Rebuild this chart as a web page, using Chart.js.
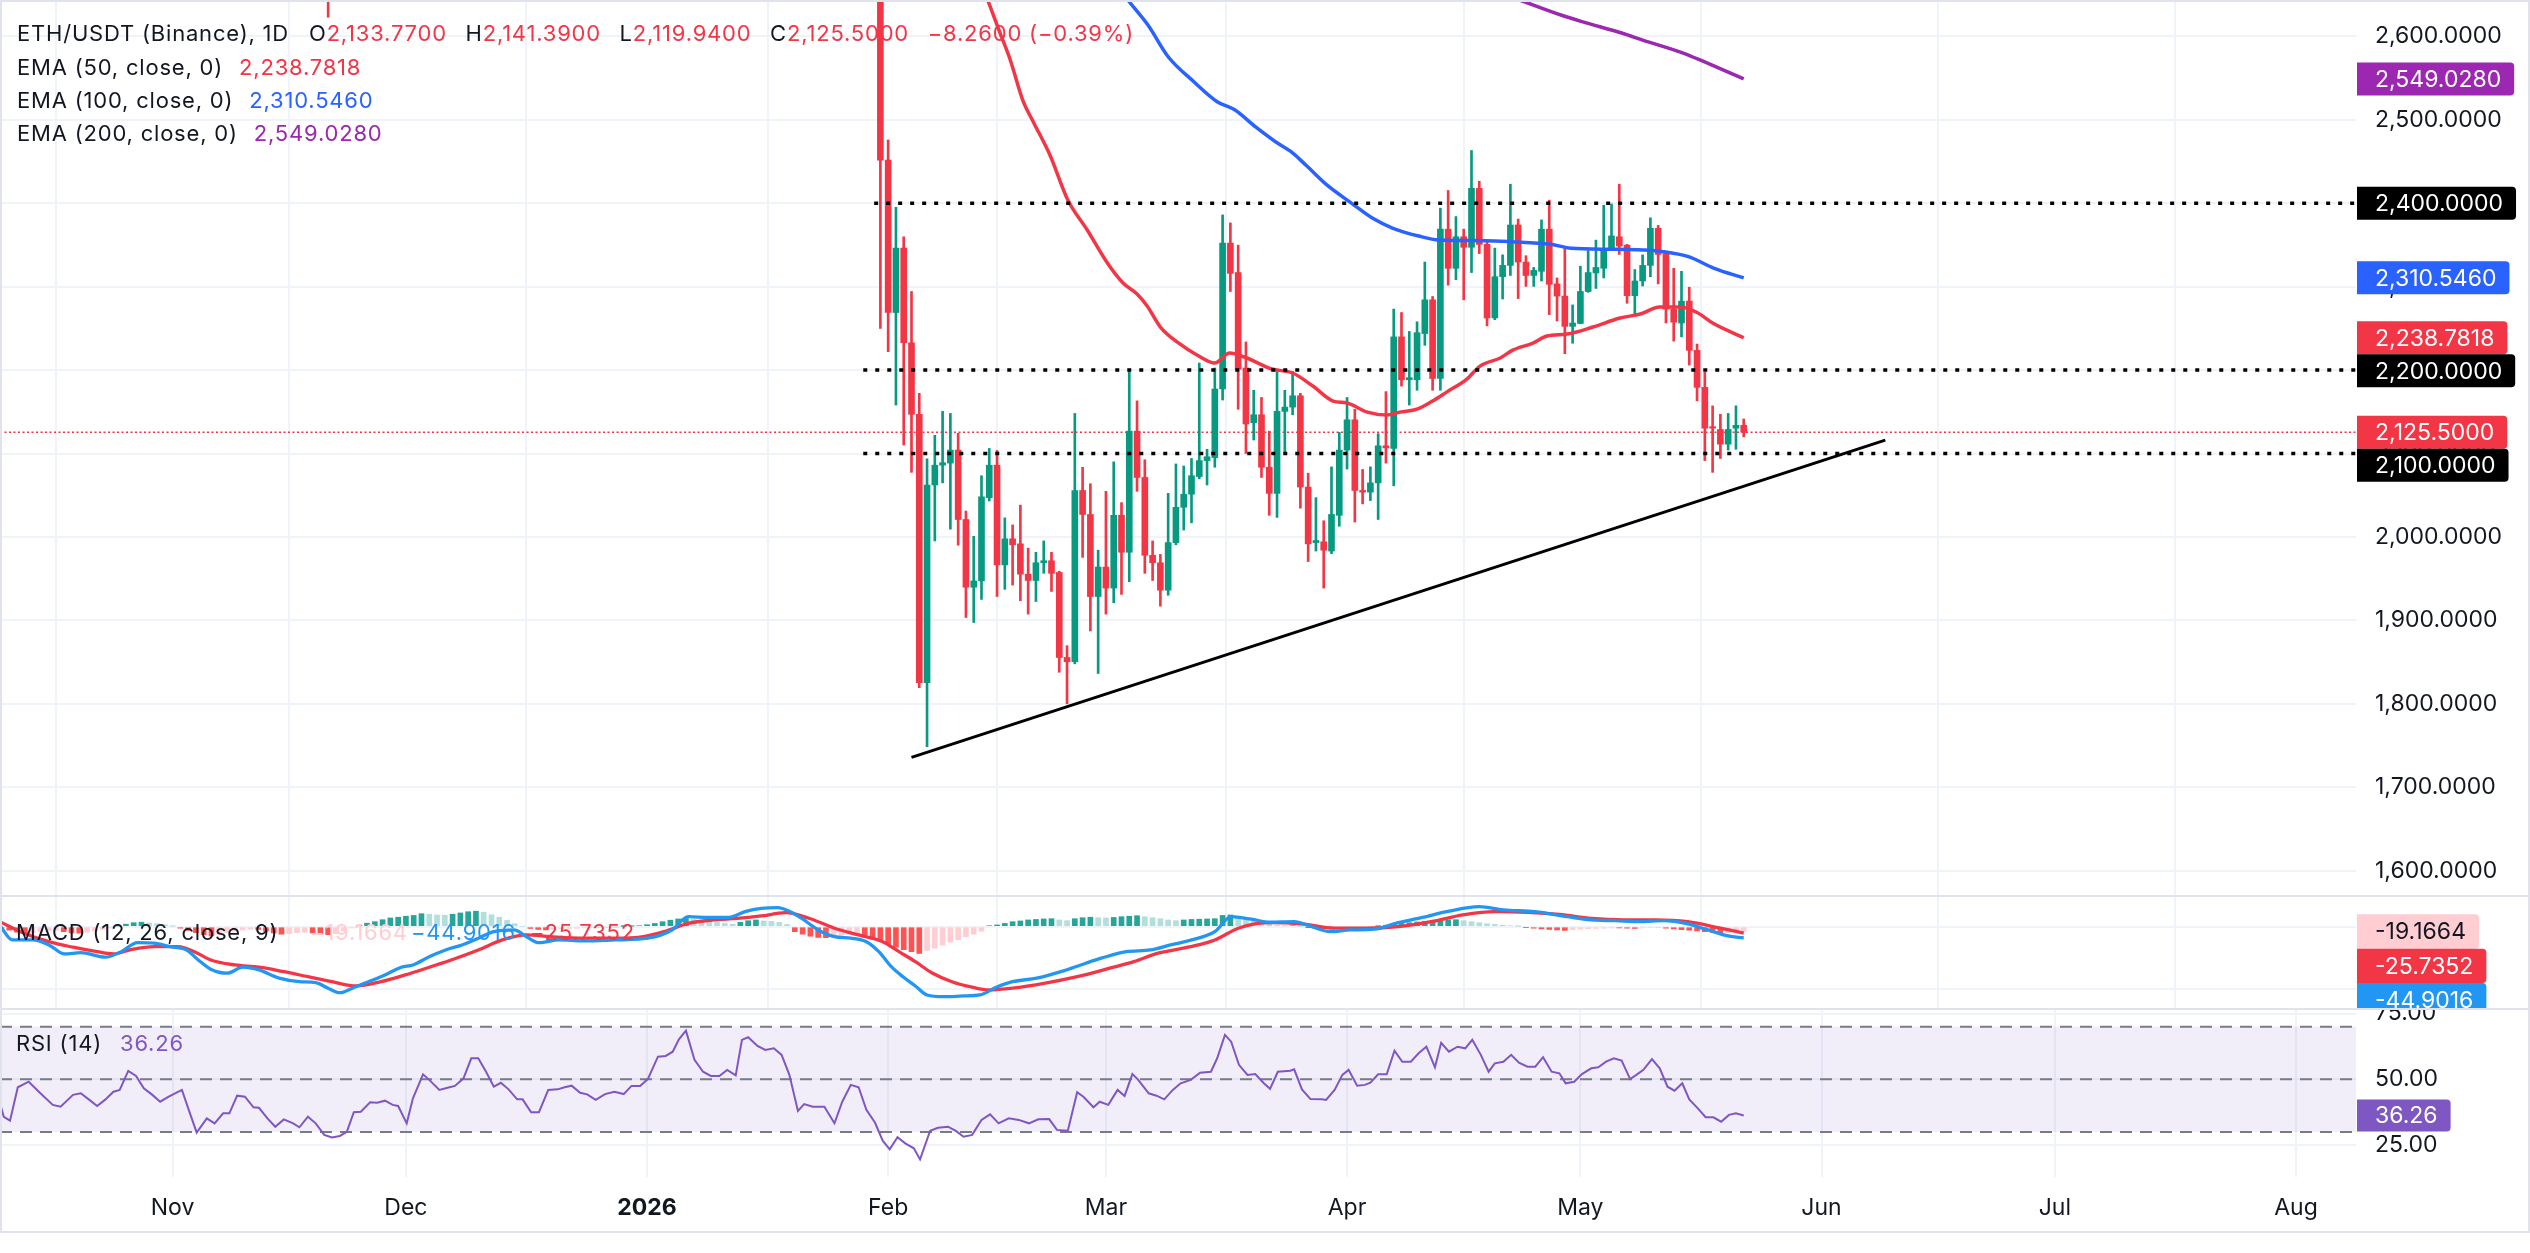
<!DOCTYPE html>
<html>
<head>
<meta charset="utf-8">
<script src="https://cdn.jsdelivr.net/npm/chart.js@4.4.1/dist/chart.umd.min.js"></script>
<style>
  html, body { margin:0; padding:0; background:#ffffff; }
  body { width:2530px; height:1253px; position:relative; overflow:hidden; font-family: Inter, "Noto Sans", sans-serif; }
  canvas { position:absolute; left:0; }
  .sep { position:absolute; left:0; width:2530px; height:2px; background:#E0E3EB; }
  .frame { position:absolute; left:0; top:0; width:2526px; height:1229px; border:2px solid #E0E3EB; pointer-events:none; }
  .leg { position:absolute; left:17px; font-size:22px; letter-spacing:0.8px; line-height:24px; height:24px; color:#131722; white-space:nowrap; }
  .leg .g { margin-left:16px; }
  .leg .a { position:absolute; top:0; }
  .red { color:#F23645; } .blue { color:#2962FF; } .purple { color:#9C27B0; }
  .pink { color:#FFCDD2; } .mblue { color:#2196F3; } .rsi { color:#7E57C2; } .blk { color:#131722; }
</style>
</head>
<body>
<canvas id="cPrice" width="2530" height="895" style="top:0px"></canvas>
<div class="sep" style="top:895px"></div>
<canvas id="cMacd" width="2530" height="111" style="top:897px"></canvas>
<div class="sep" style="top:1008px"></div>
<canvas id="cRsi" width="2530" height="222" style="top:1010px"></canvas>
<div class="frame"></div>
<div class="leg" id="leg1" style="top:21px"></div>
<div class="leg" id="leg2" style="top:55px"></div>
<div class="leg" id="leg3" style="top:88px"></div>
<div class="leg" id="leg4" style="top:121px"></div>
<div class="leg" id="legM" style="top:920px;left:16px"></div>
<div class="leg" id="legR" style="top:1031px;left:16px"></div>
<script>
// ---------------- DATA ----------------
// Daily candles (ETH/USDT, Binance, 1D)
const candleDates = ['2025-11-21','2026-01-31',
 '2026-02-01','2026-02-02','2026-02-03','2026-02-04','2026-02-05','2026-02-06','2026-02-07','2026-02-08','2026-02-09','2026-02-10',
 '2026-02-11','2026-02-12','2026-02-13','2026-02-14','2026-02-15','2026-02-16','2026-02-17','2026-02-18','2026-02-19','2026-02-20',
 '2026-02-21','2026-02-22','2026-02-23','2026-02-24','2026-02-25','2026-02-26','2026-02-27','2026-02-28',
 '2026-03-01','2026-03-02','2026-03-03','2026-03-04','2026-03-05','2026-03-06','2026-03-07','2026-03-08','2026-03-09','2026-03-10',
 '2026-03-11','2026-03-12','2026-03-13','2026-03-14','2026-03-15','2026-03-16','2026-03-17','2026-03-18','2026-03-19','2026-03-20',
 '2026-03-21','2026-03-22','2026-03-23','2026-03-24','2026-03-25','2026-03-26','2026-03-27','2026-03-28','2026-03-29','2026-03-30','2026-03-31',
 '2026-04-01','2026-04-02','2026-04-03','2026-04-04','2026-04-05','2026-04-06','2026-04-07','2026-04-08','2026-04-09','2026-04-10',
 '2026-04-11','2026-04-12','2026-04-13','2026-04-14','2026-04-15','2026-04-16','2026-04-17','2026-04-18','2026-04-19','2026-04-20',
 '2026-04-21','2026-04-22','2026-04-23','2026-04-24','2026-04-25','2026-04-26','2026-04-27','2026-04-28','2026-04-29','2026-04-30',
 '2026-05-01','2026-05-02','2026-05-03','2026-05-04','2026-05-05','2026-05-06','2026-05-07','2026-05-08','2026-05-09','2026-05-10',
 '2026-05-11','2026-05-12','2026-05-13','2026-05-14','2026-05-15','2026-05-16','2026-05-17','2026-05-18','2026-05-19','2026-05-20',
 '2026-05-21','2026-05-22'];
const opens = [2840,2700,
 2451.6,2269.0,2346.2,2232.7,2147.0,1825.2,2062.3,2086.0,2088.5,2104.1,
 2020.9,1939.7,1947.3,2047.1,2086.0,1966.5,1997.7,1991.7,1955.4,1947.8,
 1969.0,1971.5,1957.4,1855.5,1850.4,2055.7,2026.9,1928.6,
 1963.9,1938.7,2025.9,1981.6,2126.8,2071.3,1978.0,1969.0,1936.2,1993.2,
 2035.5,2051.2,2072.4,2091.5,2095.1,2177.3,2352.2,2316.9,2202.5,2136.9,
 2146.5,2083.5,2052.2,2150.5,2155.6,2169.2,2059.8,1993.2,1994.2,1983.1,2025.9,
 2104.1,2140.4,2055.7,2053.7,2064.8,2109.2,2106.1,2239.8,2188.4,2188.4,
 2243.8,2284.2,2189.9,2368.9,2322.0,2359.8,2347.2,2417.8,2350.7,2262.5,
 2311.9,2325.5,2373.9,2329.5,2313.4,2318.4,2368.9,2303.3,2288.7,2252.4,
 2255.9,2294.2,2316.4,2322.0,2345.7,2359.8,2349.7,2289.2,2306.8,2325.5,
 2369.9,2339.6,2273.1,2256.4,2282.6,2223.6,2179.3,2131.4,2128.8,2111.2,
 2130.4,2133.77];
const highs = [2870,2720,
 2475.8,2395.1,2359.8,2294.2,2172.2,2093.5,2121.8,2150.5,2148.0,2124.3,
 2031.0,2000.7,2073.4,2106.1,2103.6,2022.9,2014.4,2038.1,1986.6,1981.6,
 1995.2,1981.6,1958.9,1869.6,2148.0,2083.5,2063.8,1984.1,
 2054.7,2090.0,2041.1,2198.4,2163.1,2092.5,1995.2,1979.0,2052.2,2087.5,
 2085.0,2094.0,2208.5,2105.1,2202.5,2386.0,2376.4,2349.7,2233.7,2175.8,
 2167.2,2126.8,2197.4,2175.8,2198.4,2172.2,2076.4,2047.1,2019.4,2084.0,2125.3,
 2167.2,2153.0,2080.9,2084.0,2123.8,2174.2,2273.1,2269.0,2246.3,2257.9,
 2329.5,2288.2,2394.1,2415.3,2384.0,2368.9,2463.2,2426.4,2353.8,2346.2,
 2338.1,2422.8,2381.0,2337.1,2323.0,2380.0,2403.7,2310.4,2346.2,2278.1,
 2324.5,2343.2,2355.8,2397.6,2399.1,2422.8,2350.7,2320.5,2338.1,2382.5,
 2373.4,2340.5,2322.0,2318.4,2299.3,2231.2,2197.4,2157.1,2147.0,2148.0,
 2157.1,2141.39];
const lows = [2623,2249.9,
 2222.1,2158.1,2110.2,2077.4,1819.2,1748.6,1995.2,2064.8,2009.3,1990.1,
 1903.4,1897.4,1925.1,2043.1,1928.6,1937.2,1942.3,1923.6,1907.5,1922.6,
 1956.4,1934.7,1837.8,1800.0,1847.9,1975.5,1887.3,1836.3,
 1907.5,1921.1,1931.1,1946.3,2054.7,1956.4,1947.8,1917.0,1930.1,1990.6,
 2008.3,2016.9,2069.8,2062.3,2083.5,2164.1,2294.2,2153.0,2100.1,2116.2,
 2071.3,2025.9,2023.4,2101.1,2146.5,2034.5,1970.5,1983.1,1938.7,1980.0,2012.8,
 2081.4,2017.9,2039.6,2043.6,2020.9,2088.5,2061.3,2180.8,2158.1,2175.8,
 2229.7,2175.8,2175.8,2301.8,2308.4,2284.2,2316.9,2339.6,2252.9,2260.4,
 2285.2,2313.4,2285.7,2300.3,2300.3,2306.8,2266.5,2258.9,2219.6,2232.2,
 2255.4,2293.2,2297.8,2310.4,2343.7,2338.6,2280.1,2265.0,2300.8,2311.9,
 2303.3,2256.4,2234.7,2239.8,2206.0,2163.1,2091.5,2077.4,2094.0,2104.1,
 2105.1,2119.94];
const closes = [2760,2451.6,
 2269.0,2346.2,2232.7,2147.0,1825.2,2062.3,2086.0,2089.0,2104.1,2020.9,
 1939.7,1947.3,2048.1,2086.0,1966.5,1997.7,1990.6,1955.4,1947.8,1969.0,
 1971.5,1956.4,1855.5,1850.4,2055.7,2026.9,1928.6,1963.9,
 1938.7,2025.9,1981.6,2126.8,2071.3,1978.0,1969.0,1936.2,1993.2,2035.5,
 2051.2,2073.4,2091.5,2096.1,2177.3,2352.2,2315.9,2201.0,2135.4,2146.5,
 2083.5,2052.2,2150.5,2155.6,2169.2,2059.8,1991.7,1995.7,1984.1,2026.9,2104.1,
 2140.4,2055.7,2053.7,2064.8,2109.2,2106.7,2239.8,2188.4,2190.9,2244.8,
 2284.2,2189.9,2368.9,2322.0,2359.8,2347.2,2417.8,2350.7,2262.5,2311.9,
 2325.5,2373.9,2329.5,2313.4,2319.5,2368.9,2302.8,2288.7,2252.4,2256.4,
 2294.2,2316.9,2323.0,2345.7,2360.8,2348.7,2289.2,2306.8,2325.5,2369.9,
 2338.6,2273.1,2257.4,2282.6,2223.6,2179.3,2130.4,2130.4,2111.2,2128.8,
 2133.76,2125.5];

// EMA lines (x = days since 2025-11-01)
const ema50Days = [104.8,106.4,107.7,109.3,110.6,112.8,115.1,117.6,120.1,122.2,124.0,125.3,127.0,129.5,131.7,134.0,135.9,138.1,141.3,144.0,146.6,149.2,151.0,153.6,156.1,157.8,160.0,162.0,163.8,166.4,168.1,170.7,172.3,174.9,176.7,179.3,182.6,186.1,188.7,191.2,193.8,196.0,198.0,202.0];
const ema50Vals = [2643.6,2603.7,2571.7,2523.7,2498.6,2457.8,2403.9,2367.9,2329.6,2304.4,2291.2,2276.8,2251.6,2231.3,2218.1,2208.5,2220.5,2214.5,2201.3,2196.5,2180.9,2162.9,2160.5,2149.6,2146.1,2149.6,2153.2,2162.9,2173.6,2189.2,2204.8,2214.5,2223.9,2232.4,2240.8,2243.2,2251.6,2262.4,2267.2,2275.6,2275.6,2269.0,2256.4,2238.7818];
const ema100Days = [122.8,125.4,128.0,131.3,134.3,136.6,139.2,141.8,143.8,145.7,148.4,151.6,154.3,156.9,160.2,162.8,168.7,172.0,177.2,179.8,185.1,189.0,191.7,194.9,198.2,202.0];
const ema100Vals = [2643.6,2613.6,2575.6,2545.7,2521.7,2511.7,2491.7,2473.7,2461.8,2445.8,2421.9,2399.9,2381.9,2370.0,2360.7,2355.9,2355.1,2353.9,2350.8,2346.0,2344.8,2343.9,2341.9,2335.9,2322.0,2310.546];
const ema200Days = [173.2,178.5,181.2,186.4,189.0,194.3,196.9,202.0];
const ema200Vals = [2643.6,2625.6,2617.6,2603.7,2595.6,2579.7,2569.6,2549.028];

// MACD (12, 26, close, 9)
const macdDays = [-22.2,-20.6,-18.0,-15.9,-13.9,-11.8,-8.65,-6.6,-4.5,-2.4,-0.3,1.8,3.3,4.9,7.0,9.05,11.1,13.7,16.3,18.4,20.0,21.5,23.1,25.2,27.3,29.4,30.9,33.0,35.1,37.2,39.3,41.3,43.9,45.5,47.1,49.7,52.8,57.0,61.1,64.2,66.3,68.9,71.5,73.6,75.7,77.8,79.4,80.9,83.0,85.1,87.2,89.2,90.8,92.4,93.9,95.5,97.0,99.1,101.7,103.8,105.9,108.0,111.1,114.2,117.4,119.4,122.6,125.7,128.3,131.4,134.0,136.1,138.7,141.1,144.2,146.2,148.8,151.4,154.5,157.6,160.7,163.8,168.0,171.1,175.2,179.3,182.4,185.5,188.6,191.7,194.8,197.4,200.0,202.0];
const macdVals = [5,-53,-53,-73,-109,-104,-122,-100,-64,-66,-80,-93,-133,-170,-186,-162,-173,-206,-220,-224,-246,-264,-246,-220,-193,-162,-153,-120,-93,-73,-46,-20,-13,-40,-64,-53,-57,-53,-46,-13,40,37,37,60,73,76,60,33,-13,-40,-46,-60,-100,-160,-200,-237,-273,-280,-277,-273,-242,-220,-206,-180,-146,-126,-100,-93,-73,-50,-20,40,30,18,20,3,-20,-13,-10,16,37,60,80,67,60,40,27,24,20,24,11,-13,-37,-44.9016];
const signalDays = [-22.2,-19.1,-15.9,-12.8,-9.7,-7.6,-5.5,-2.4,0.7,2.8,4.9,8.0,11.1,14.3,17.4,20.5,23.6,26.8,29.9,33.0,36.1,39.3,42.4,45.5,48.6,52.8,57.0,60.1,63.2,66.3,69.5,72.6,75.7,78.8,81.9,85.1,88.2,91.3,93.4,95.5,97.6,100.2,102.8,104.9,108.0,112.2,116.3,120.5,123.6,126.7,130.9,134.0,137.1,141.1,145.2,149.4,153.5,157.6,161.8,165.9,170.0,174.2,178.3,182.4,186.6,190.7,194.8,199.0,202.0];
const signalVals = [20,-26,-60,-82,-100,-109,-93,-80,-80,-100,-133,-153,-162,-180,-200,-220,-237,-220,-193,-162,-130,-93,-53,-33,-40,-46,-46,-42,-20,13,27,33,43,56,33,-6,-33,-60,-100,-140,-184,-220,-242,-253,-246,-226,-200,-166,-140,-106,-80,-53,-5,16,11,-6,-6,0,20,47,60,57,49,33,27,27,20,-6,-25.7352];
const histFirstDay = -22; // one bar per day from 2025-10-10 to 2026-05-22
const histVals = [
 -6,-14,-22,-27,-25,-20,-15,-14,-20,-25,
 -26,-22,-17,-11,-5,3,10,16,18,15,
 12,8,2,-6,-15,-24,-32,-37,-31,-24,
 -18,-13,-10,-11,-18,-25,-30,-28,-24,-22,
 -25,-29,-32,-28,-17,-5,6,14,20,28,
 35,38,42,45,52,50,47,46,50,55,
 60,62,58,48,38,25,12,0,-7,-11,
 -13,-11,-9,-7,-6,-5,-4,-3,-2,-1,
 1,2,4,8,13,20,26,31,33,30,
 26,22,17,13,10,18,24,27,23,21,
 17,9,-20,-30,-38,-43,-44,-40,-34,-30,
 -28,-33,-45,-58,-70,-82,-92,-100,-107,-95,
 -86,-74,-62,-52,-40,-30,-18,4,7,13,
 20,23,27,29,31,32,27,24,32,36,
 38,36,35,37,40,42,44,40,36,32,
 27,24,27,29,30,31,32,45,47,40,
 33,28,20,10,5,3,4,1,-2,-5,
 -8,-10,-8,-6,-5,-4,-2,2,6,10,
 13,16,19,21,23,25,27,28,24,20,
 16,12,9,6,4,2,-3,-6,-9,-11,
 -13,-15,-12,-10,-8,-7,-6,-5,-5,-6,
 -7,-5,-4,-3,-6,-9,-12,-14,-17,-20,
 -23,-25,-24,-21,-19.1664];

// RSI (14)
const rsiDays = [-22.2,-21.7,-20.9,-19.9,-18.5,-17.0,-15.4,-14.4,-12.8,-11.8,-10.7,-9.7,-8.7,-7.6,-6.8,-5.7,-4.7,-3.7,-2.6,-1.6,-0.5,1.2,2.3,3.1,4.4,5.4,6.5,7.3,8.3,9.3,10.4,11.1,12.2,13.2,14.3,15.5,16.3,17.4,18.4,19.5,20.5,21.5,22.4,23.3,24.2,25.4,26.3,27.3,28.3,29.0,30.1,30.9,32.2,33.0,34.3,35.6,36.3,37.4,38.4,39.3,40.3,41.3,42.2,43.2,44.3,45.0,46.1,47.1,48.3,49.5,50.4,51.3,52.4,53.3,54.4,55.6,56.8,58.0,59.0,60.1,61.1,62.4,63.4,64.3,65.1,66.0,67.1,68.2,69.2,70.3,71.3,72.4,73.2,74.0,75.2,76.2,77.3,78.3,79.3,80.4,81.2,82.3,83.8,85.1,86.1,87.2,88.2,89.2,90.3,91.3,92.2,93.2,94.2,95.3,96.1,97.4,98.4,99.7,100.7,101.7,102.8,104.0,105.1,106.2,107.5,108.8,110.1,111.3,112.7,113.7,115.1,116.3,117.1,118.4,119.2,120.3,121.5,122.4,123.4,124.1,125.5,126.5,127.5,128.6,129.6,130.9,132.1,133.5,134.3,135.3,136.1,137.1,138.2,139.2,140.3,141.1,142.1,143.7,144.2,145.2,146.3,147.8,148.3,149.4,150.4,151.2,152.3,153.3,154.0,155.0,156.1,157.1,158.1,159.2,160.2,161.2,162.3,163.1,164.1,165.2,166.2,167.1,168.2,169.2,170.0,171.1,172.1,173.1,174.2,175.2,176.2,177.3,178.3,179.1,180.2,181.2,182.4,183.3,184.3,185.3,186.3,187.4,188.2,189.1,190.2,191.2,192.2,193.1,194.1,195.0,196.1,197.1,198.1,199.1,200.1,201.0,202.0];
const rsiVals = [40.9,35.8,34.3,47.0,49.1,44.7,40.3,39.6,44.1,44.7,42.2,39.9,42.2,45.3,46.0,53.2,51.3,46.6,44.1,41.5,43.4,46.0,36.5,29.8,35.2,33.3,37.1,37.1,43.8,43.4,39.4,39.2,35.2,32.0,34.8,33.3,31.8,35.8,33.3,28.9,27.9,28.5,30.1,37.5,37.7,41.3,41.1,41.9,40.3,39.9,33.3,42.8,51.9,49.8,46.0,47.0,47.5,50.4,58.0,58.0,52.9,47.2,48.7,46.2,42.4,42.4,37.5,37.5,46.0,46.2,47.0,47.6,44.9,44.3,42.2,44.4,45.3,44.4,47.5,47.5,50.1,58.6,58.9,60.5,65.2,68.5,57.4,52.9,51.3,51.3,53.6,51.5,65.0,66.0,62.7,61.2,61.8,59.3,51.7,38.0,40.6,39.6,39.6,33.3,41.5,47.9,47.0,38.4,33.6,26.7,23.4,28.0,25.7,23.8,19.6,30.5,31.6,32.0,30.4,28.2,28.9,34.6,36.7,33.3,35.2,34.6,33.3,34.8,34.9,30.8,30.5,45.1,43.4,39.4,41.5,40.3,46.0,43.7,52.0,50.0,44.7,43.8,42.4,46.0,48.5,49.8,52.5,52.9,58.0,66.9,64.3,55.5,51.7,52.0,48.5,46.4,52.9,53.3,53.8,46.2,42.5,42.4,42.2,46.0,51.7,53.6,47.6,47.9,48.7,51.9,51.9,60.9,56.7,56.7,59.9,62.4,54.6,63.9,60.5,62.4,61.8,65.0,59.3,52.9,56.1,56.7,59.3,56.3,54.8,54.8,58.4,52.9,52.3,48.5,49.1,52.0,54.2,54.6,56.7,58.0,57.1,50.1,51.7,53.6,57.7,54.2,47.2,45.7,48.5,42.4,39.0,35.6,35.6,33.9,36.5,37.1,36.26];
const rsiLevels = [70, 50, 30];

// Drawings: horizontal levels and rising trendline
const levelPrices = [2400, 2200, 2100];
const levelStartDays = [90.2, 88.8, 88.8];
const trendDays = [95.0, 220.2];
const trendVals = [1735.8, 2116.1];

// Axis ticks
const monthDays = [0, 30, 61, 92, 120, 151, 181, 212, 242, 273];
const monthLabels = ['Nov', 'Dec', '2026', 'Feb', 'Mar', 'Apr', 'May', 'Jun', 'Jul', 'Aug'];
const priceTicks = [1600, 1700, 1800, 1900, 2000, 2100, 2200, 2300, 2400, 2500, 2600];
const macdGridTicks = [0, -250];
const rsiTicks = [25, 50, 75];

// ---------------- RENDER ----------------
const FONT = 'Inter, "Noto Sans", sans-serif';
const AXIS_FONT_SIZE = 23;
const GRID = '#F0F3FA', TXT = '#131722', UP = '#089981', DOWN = '#F23645';
const X_MIN = -22.19, X_MAX = 280.72;
const P_MIN = 1570.8, P_MAX = 2643.6;
const M_MIN = -325.2, M_MAX = 118.8;
const R_MIN = 12.91, R_MAX = 76.34;
const AXIS_W = 174;

const DAY0 = Date.UTC(2025, 10, 1);
const toDay = s => { const p = s.split('-').map(Number); return (Date.UTC(p[0], p[1] - 1, p[2]) - DAY0) / 86400000; };
const fmt = (v, d) => v.toLocaleString('en-US', { minimumFractionDigits: d, maximumFractionDigits: d });
const neg = s => s.replace('-', '\u2212');
const pts = (xs, ys) => xs.map((x, i) => ({ x, y: ys[i] }));

Chart.defaults.font.family = FONT;
Chart.defaults.animation = false;
Chart.defaults.events = [];

function roundRect(ctx, x, y, w, h, r) {
  ctx.beginPath();
  ctx.moveTo(x, y); ctx.lineTo(x + w - r, y); ctx.quadraticCurveTo(x + w, y, x + w, y + r);
  ctx.lineTo(x + w, y + h - r); ctx.quadraticCurveTo(x + w, y + h, x + w - r, y + h);
  ctx.lineTo(x, y + h); ctx.closePath();
}
const axisBoxes = {
  id: 'axisBoxes',
  afterDraw(chart, args, opts) {
    if (!opts || !opts.items) return;
    const ctx = chart.ctx, ys = chart.scales.y, h = opts.h;
    const items = opts.items.map(it => Object.assign({}, it, { py: ys.getPixelForValue(it.value) })).sort((a, b) => a.py - b.py);
    let prev = -1e9;
    ctx.save();
    ctx.font = AXIS_FONT_SIZE + 'px ' + FONT;
    items.forEach(it => {
      const y = Math.max(it.py, prev + h); prev = y;
      const left = chart.chartArea.right + 1;
      const w = ctx.measureText(it.text).width + 31;
      ctx.fillStyle = it.bg; roundRect(ctx, left, y - h / 2, w, h, 4); ctx.fill();
      ctx.fillStyle = it.fg; ctx.textAlign = 'left'; ctx.textBaseline = 'middle';
      ctx.fillText(it.text, left + 18, y + 1);
    });
    ctx.restore();
  }
};
const rsiBand = {
  id: 'rsiBand',
  beforeDatasetsDraw(chart) {
    const { ctx, chartArea: a, scales: { y } } = chart;
    const y70 = y.getPixelForValue(rsiLevels[0]), y30 = y.getPixelForValue(rsiLevels[2]);
    ctx.save();
    ctx.fillStyle = 'rgba(126,87,194,0.1)';
    ctx.fillRect(a.left, y70, a.right - a.left, y30 - y70);
    ctx.strokeStyle = '#787B86'; ctx.lineWidth = 2; ctx.setLineDash([12, 8]);
    rsiLevels.forEach(v => { const yy = y.getPixelForValue(v); ctx.beginPath(); ctx.moveTo(a.left, yy); ctx.lineTo(a.right, yy); ctx.stroke(); });
    ctx.restore();
  }
};
function noPad(s) { s.paddingTop = 0; s.paddingBottom = 0; s.paddingLeft = 0; s.paddingRight = 0; }

function xScale(withLabels) {
  return {
    type: 'linear', min: X_MIN, max: X_MAX, offset: false,
    grid: { color: GRID, lineWidth: 2, drawTicks: false },
    border: { display: false },
    afterBuildTicks: s => { s.ticks = monthDays.map(v => ({ value: v })); },
    ticks: withLabels ? {
      autoSkip: false, maxRotation: 0, padding: 17, color: TXT,
      font: c => ({ family: FONT, size: AXIS_FONT_SIZE, weight: (c.tick && c.tick.value === 61) ? 'bold' : 'normal' }),
      callback: v => monthLabels[monthDays.indexOf(v)]
    } : { display: false },
    afterFit: s => { s.height = withLabels ? 55 : 0; noPad(s); }
  };
}
function yScale(min, max, ticks, labelFn) {
  return {
    position: 'right', min, max,
    grid: { color: GRID, lineWidth: 2, drawTicks: false },
    border: { display: false },
    afterBuildTicks: s => { s.ticks = ticks.map(v => ({ value: v })); },
    ticks: labelFn ? { padding: 19, color: TXT, font: { family: FONT, size: AXIS_FONT_SIZE }, callback: labelFn } : { display: false },
    afterFit: s => { s.width = AXIS_W; noPad(s); }
  };
}

// ----- price chart -----
const cx = candleDates.map(toDay);
const last = closes.length - 1;
const bodyColors = closes.map((c, i) => c >= opens[i] ? UP : DOWN);
const ds = [];
ds.push({ type: 'line', order: 20, data: [{ x: X_MIN, y: closes[last] }, { x: X_MAX, y: closes[last] }],
  borderColor: DOWN, borderWidth: 1.5, borderDash: [2, 2.5], pointRadius: 0 });
ds.push({ type: 'bar', order: 12, grouped: false, barThickness: 2, backgroundColor: bodyColors,
  data: cx.map((x, i) => ({ x, y: [lows[i], highs[i]] })) });
ds.push({ type: 'bar', order: 11, grouped: false, barThickness: 6, minBarLength: 1.5, backgroundColor: bodyColors,
  data: cx.map((x, i) => ({ x, y: [opens[i], closes[i]] })) });
[[ema50Days, ema50Vals, '#F23645'], [ema100Days, ema100Vals, '#2962FF'], [ema200Days, ema200Vals, '#9C27B0']].forEach(e => {
  ds.push({ type: 'line', order: 5, data: pts(e[0], e[1]), borderColor: e[2], borderWidth: 3.5, pointRadius: 0, cubicInterpolationMode: 'monotone' });
});
levelPrices.forEach((p, i) => {
  ds.push({ type: 'line', order: 2, data: [{ x: levelStartDays[i], y: p }, { x: X_MAX, y: p }],
    borderColor: '#000000', borderWidth: 3.5, borderDash: [4, 8], borderCapStyle: 'butt', pointRadius: 0 });
});
ds.push({ type: 'line', order: 1, data: pts(trendDays, trendVals), borderColor: '#000000', borderWidth: 3, pointRadius: 0 });

new Chart(document.getElementById('cPrice'), {
  type: 'bar',
  data: { datasets: ds },
  options: {
    responsive: false, devicePixelRatio: 1, layout: { padding: 0 },
    plugins: { legend: { display: false }, tooltip: { enabled: false },
      axisBoxes: { h: 33, items: [
        { value: ema200Vals[ema200Vals.length - 1], text: fmt(ema200Vals[ema200Vals.length - 1], 4), bg: '#9C27B0', fg: '#fff' },
        { value: levelPrices[0], text: fmt(levelPrices[0], 4), bg: '#000', fg: '#fff' },
        { value: ema100Vals[ema100Vals.length - 1], text: fmt(ema100Vals[ema100Vals.length - 1], 4), bg: '#2962FF', fg: '#fff' },
        { value: ema50Vals[ema50Vals.length - 1], text: fmt(ema50Vals[ema50Vals.length - 1], 4), bg: '#F23645', fg: '#fff' },
        { value: levelPrices[1], text: fmt(levelPrices[1], 4), bg: '#000', fg: '#fff' },
        { value: closes[last], text: fmt(closes[last], 4), bg: '#F23645', fg: '#fff' },
        { value: levelPrices[2], text: fmt(levelPrices[2], 4), bg: '#000', fg: '#fff' }
      ] } },
    scales: { x: xScale(false), y: yScale(P_MIN, P_MAX, priceTicks, v => fmt(v, 4)) }
  },
  plugins: [axisBoxes]
});

// ----- MACD chart -----
const histColors = histVals.map((v, i) => {
  const p = i > 0 ? histVals[i - 1] : v;
  return v >= 0 ? (v >= p ? '#26A69A' : '#B2DFDB') : (v > p ? '#FFCDD2' : '#FF5252');
});
const mLast = macdVals.length - 1, sLast = signalVals.length - 1, hLast = histVals.length - 1;
new Chart(document.getElementById('cMacd'), {
  type: 'bar',
  data: { datasets: [
    { type: 'bar', order: 5, grouped: false, barThickness: 5, backgroundColor: histColors,
      data: histVals.map((v, i) => ({ x: histFirstDay + i, y: v })) },
    { type: 'line', order: 2, data: pts(signalDays, signalVals), borderColor: '#F23645', borderWidth: 3.3, pointRadius: 0, cubicInterpolationMode: 'monotone' },
    { type: 'line', order: 1, data: pts(macdDays, macdVals), borderColor: '#2196F3', borderWidth: 3.3, pointRadius: 0, cubicInterpolationMode: 'monotone' }
  ] },
  options: {
    responsive: false, devicePixelRatio: 1, layout: { padding: 0 },
    plugins: { legend: { display: false }, tooltip: { enabled: false },
      axisBoxes: { h: 34.4, items: [
        { value: histVals[hLast], text: fmt(histVals[hLast], 4), bg: '#FFCDD2', fg: TXT },
        { value: signalVals[sLast], text: fmt(signalVals[sLast], 4), bg: '#F23645', fg: '#fff' },
        { value: macdVals[mLast], text: fmt(macdVals[mLast], 4), bg: '#2196F3', fg: '#fff' }
      ] } },
    scales: { x: xScale(false), y: yScale(M_MIN, M_MAX, macdGridTicks, null) }
  },
  plugins: [axisBoxes]
});

// ----- RSI chart -----
const rLast = rsiVals.length - 1;
new Chart(document.getElementById('cRsi'), {
  type: 'line',
  data: { datasets: [
    { data: pts(rsiDays, rsiVals), borderColor: '#7E57C2', borderWidth: 2, pointRadius: 0, tension: 0 }
  ] },
  options: {
    responsive: false, devicePixelRatio: 1, layout: { padding: 0 },
    plugins: { legend: { display: false }, tooltip: { enabled: false },
      axisBoxes: { h: 32, items: [ { value: rsiVals[rLast], text: fmt(rsiVals[rLast], 2), bg: '#7E57C2', fg: '#fff' } ] } },
    scales: { x: xScale(true), y: yScale(R_MIN, R_MAX, rsiTicks, v => fmt(v, 2)) }
  },
  plugins: [rsiBand, axisBoxes]
});

// ----- legends -----
function span(cls, text) { const s = document.createElement('span'); s.className = cls; s.textContent = text; return s; }
const chg = closes[last] - closes[last - 1];
const pct = chg / closes[last - 1] * 100;
const leg1 = document.getElementById('leg1');
leg1.appendChild(span('blk', 'ETH/USDT (Binance), 1D'));
const groups = [['O', opens[last]], ['H', highs[last]], ['L', lows[last]], ['C', closes[last]]].map(g => {
  const s = document.createElement('span'); s.className = 'a';
  s.appendChild(span('blk', g[0])); s.appendChild(span('red', fmt(g[1], 4)));
  leg1.appendChild(s); return s;
});
const chgSpan = span('a red', neg(fmt(chg, 4)) + ' (' + neg(fmt(pct, 2)) + '%)');
leg1.appendChild(chgSpan);
// spread the OHLC groups between x=309 and the change text ending at x=1134 (page coords)
const all = groups.concat([chgSpan]);
const widths = all.map(e => e.getBoundingClientRect().width);
const startX = 309 - 17, endX = 1134 - 17;
const gap = (endX - startX - widths.reduce((a, b) => a + b, 0)) / (all.length - 1);
let xx = startX;
all.forEach((e, i) => { e.style.left = xx + 'px'; xx += widths[i] + gap; });

document.getElementById('leg2').innerHTML = 'EMA (50, close, 0)<span class="g red">' + fmt(ema50Vals[ema50Vals.length - 1], 4) + '</span>';
document.getElementById('leg3').innerHTML = 'EMA (100, close, 0)<span class="g blue">' + fmt(ema100Vals[ema100Vals.length - 1], 4) + '</span>';
document.getElementById('leg4').innerHTML = 'EMA (200, close, 0)<span class="g purple">' + fmt(ema200Vals[ema200Vals.length - 1], 4) + '</span>';

const legM = document.getElementById('legM');
legM.appendChild(span('blk', 'MACD (12, 26, close, 9)'));
[['pink', histVals[hLast], 294], ['mblue', macdVals[mLast], 395], ['red', signalVals[sLast], 514]].forEach(m => {
  const s = span('a ' + m[0], neg(fmt(m[1], 4))); s.style.left = m[2] + 'px'; legM.appendChild(s);
});
const legR = document.getElementById('legR');
legR.appendChild(span('blk', 'RSI (14)'));
const rv = span('a rsi', fmt(rsiVals[rLast], 2)); rv.style.left = '104px'; legR.appendChild(rv);
</script>
</body>
</html>
